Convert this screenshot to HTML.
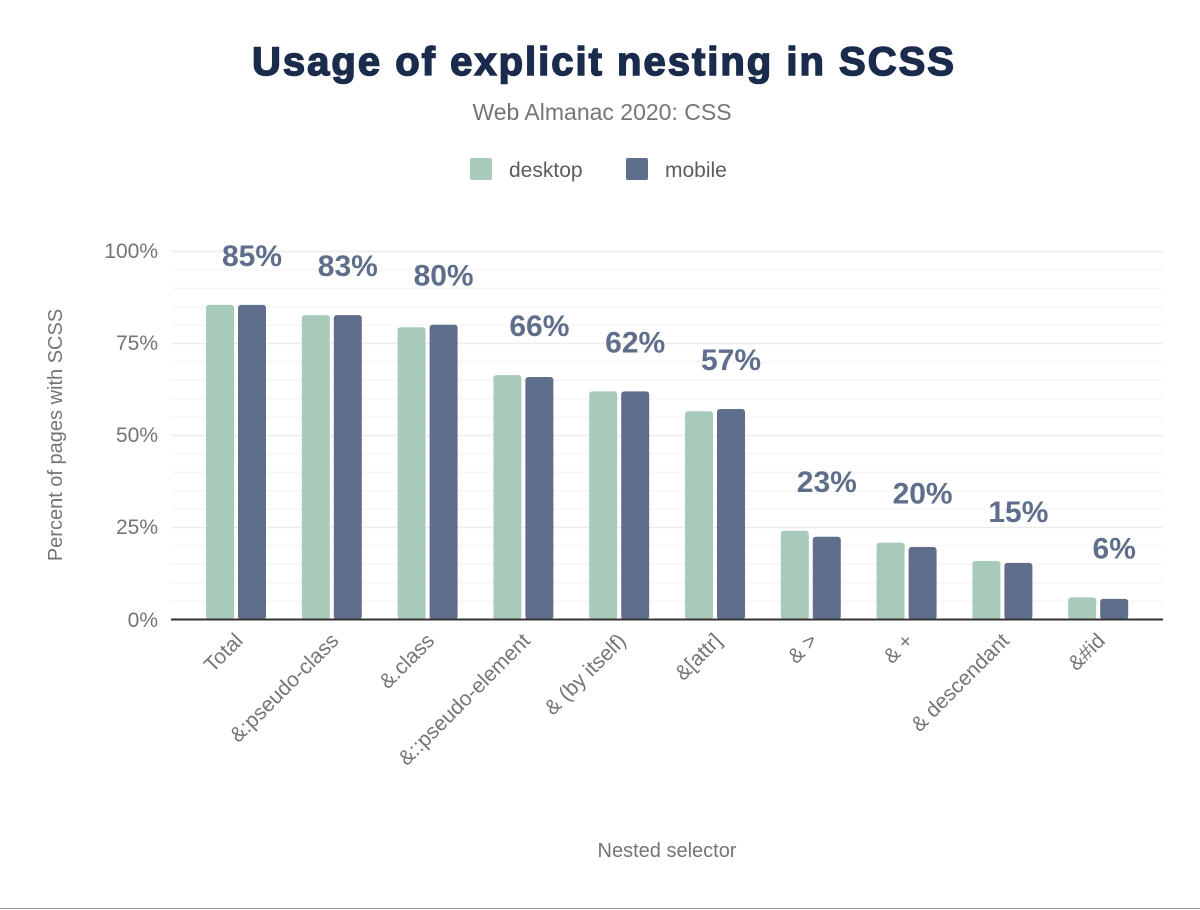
<!DOCTYPE html>
<html><head><style>body{margin:0;background:#fff}svg{display:block}</style></head>
<body>
<svg width="1200" height="910" xmlns="http://www.w3.org/2000/svg" font-family="Liberation Sans, sans-serif">
<rect width="1200" height="910" fill="#fff"/>
<text x="604" y="75" text-anchor="middle" font-size="40" font-weight="900" fill="#1a2b4c" stroke="#1a2b4c" stroke-width="1.5" style="letter-spacing:2px">Usage of explicit nesting in SCSS</text>
<text x="602" y="120" text-anchor="middle" font-size="23" fill="#757575">Web Almanac 2020: CSS</text>
<rect x="470" y="158" width="22" height="22" rx="2" fill="#a8cabb"/>
<text x="509" y="177" font-size="21" fill="#5c5c5c">desktop</text>
<rect x="626" y="158" width="22" height="22" rx="2" fill="#5f6f8b"/>
<text x="665" y="177" font-size="21" fill="#5c5c5c">mobile</text>
<g id="grid"></g>
<g id="bars"></g>
<line x1="171" y1="619.5" x2="1163" y2="619.5" stroke="#333" stroke-width="2"/>
<g font-size="21" fill="#757575" text-anchor="end">
<text x="158" y="258">100%</text><text x="158" y="350">75%</text><text x="158" y="442">50%</text><text x="158" y="534">25%</text><text x="158" y="627">0%</text>
</g>
<text transform="translate(62,435) rotate(-90)" text-anchor="middle" font-size="20" fill="#757575">Percent of pages with SCSS</text>
<text x="667" y="857" text-anchor="middle" font-size="20" fill="#757575">Nested selector</text>
<line x1="0" y1="908.5" x2="1200" y2="908.5" stroke="#999" stroke-width="1"/>
<script>
var g=document.getElementById('grid'),b=document.getElementById('bars'),ns="http://www.w3.org/2000/svg";
function el(p,t,a,txt){var e=document.createElementNS(ns,t);for(var k in a)e.setAttribute(k,a[k]);if(txt)e.textContent=txt;p.appendChild(e);}
for(var i=1;i<=20;i++){var y=619.5-i*18.4;el(g,'line',{x1:171,x2:1163,y1:y,y2:y,stroke:i%5==0?'#ececec':'#f6f6f6','stroke-width':1.5});}
var d=[["Total",85.5,85.5,"85%"],["&:pseudo-class",82.7,82.7,"83%"],["&.class",79.4,80.1,"80%"],["&::pseudo-element",66.4,65.9,"66%"],["& (by itself)",62,62,"62%"],["&[attr]",56.6,57.2,"57%"],["& >",24.1,22.5,"23%"],["& +",20.9,19.7,"20%"],["& descendant",15.9,15.4,"15%"],["&#id",6.0,5.6,"6%"]];
d.forEach(function(r,i){var c=236+95.8*i;
var h1=r[1]*3.68,h2=r[2]*3.68;
el(b,'rect',{x:c-30,y:619.5-h1,width:28,height:h1,rx:3,fill:'#a8cabb'});
el(b,'rect',{x:c+2,y:619.5-h2,width:28,height:h2,rx:3,fill:'#5f6f8b'});
var top=619.5-Math.max(h1,h2);
el(b,'text',{x:c+16,y:top-39,'text-anchor':'middle','font-size':30,'font-weight':'bold',fill:'#5f6f8b'},r[3]);
el(b,'text',{transform:'translate('+(c+8)+',642) rotate(-45)','text-anchor':'end','font-size':21,fill:'#757575'},r[0]);
});
</script>
</svg>
</body></html>
